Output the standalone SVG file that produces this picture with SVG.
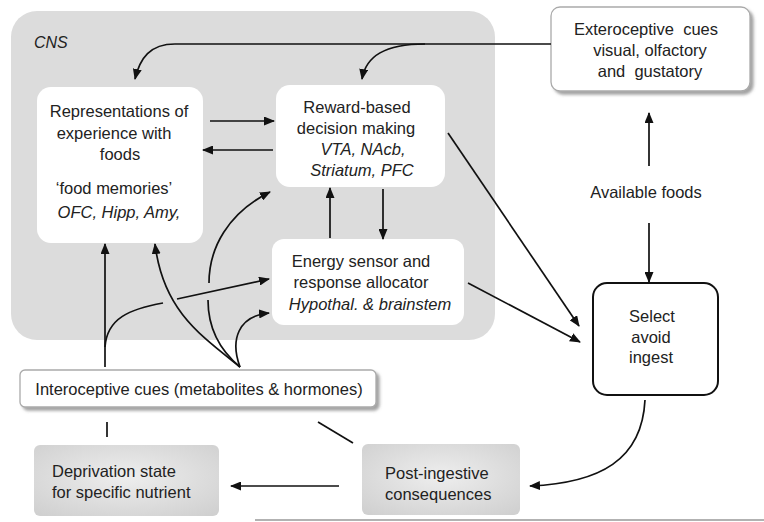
<svg xmlns="http://www.w3.org/2000/svg" width="764" height="522" viewBox="0 0 764 522">
<style>
text{font-family:"Liberation Sans",Arial,sans-serif;font-size:16.5px;fill:#222}
.i{font-style:italic}
.m{text-anchor:middle}
.p{white-space:pre}
.w{fill:#fff}
.c{fill:none;stroke:#111;stroke-width:1.7}
.a{marker-end:url(#ah)}
</style>
<defs>
<marker id="ah" markerUnits="userSpaceOnUse" markerWidth="11" markerHeight="9" refX="10" refY="4.5" orient="auto">
<path d="M0,0 L11,4.5 L0,9 z" fill="#111"/>
</marker>
<filter id="sh" x="-5%" y="-20%" width="115%" height="160%">
<feDropShadow dx="3" dy="3" stdDeviation="1.8" flood-color="#666" flood-opacity="0.6"/>
</filter>
<radialGradient id="gg" cx="50%" cy="45%" r="70%">
<stop offset="0" stop-color="#eeeeee"/>
<stop offset="1" stop-color="#d0d0d0"/>
</radialGradient>
</defs>
<rect width="764" height="522" fill="#fff"/>
<g id="cns">
<rect x="11" y="11" width="484" height="329" rx="26" fill="#dcdcdc"/>
<text x="34" y="48" class="i" style="font-size:16px">CNS</text>
</g>
<g id="representations">
<rect x="37" y="87" width="166" height="156" rx="14" class="w"/>
<text x="119" y="117" class="m">Representations of</text>
<text x="114" y="139" class="m">experience with</text>
<text x="120" y="160" class="m">foods</text>
<text x="114" y="194" class="m">‘food memories’</text>
<text x="119" y="218" class="m i">OFC, Hipp, Amy,</text>
</g>
<g id="reward">
<rect x="276" y="85" width="169" height="102" rx="14" class="w"/>
<text x="357" y="113" class="m">Reward-based</text>
<text x="356" y="134" class="m">decision making</text>
<text x="363" y="155" class="m i">VTA, NAcb,</text>
<text x="362" y="176" class="m i">Striatum, PFC</text>
</g>
<g id="energy">
<rect x="272" y="239" width="192" height="86" rx="12" class="w"/>
<text x="361" y="267" class="m">Energy sensor and</text>
<text x="361" y="288" class="m">response allocator</text>
<text x="370" y="310" class="m i">Hypothal. &amp; brainstem</text>
</g>
<g id="exteroceptive">
<rect x="551" y="7" width="199" height="84" rx="9" fill="#fff" stroke="#aaa" stroke-width="1.3" filter="url(#sh)"/>
<text x="646" y="35" class="m p">Exteroceptive  cues</text>
<text x="650" y="56" class="m">visual, olfactory</text>
<text x="650" y="77" class="m p">and  gustatory</text>
</g>
<g id="available">
<text x="646" y="198" class="m">Available foods</text>
</g>
<g id="select">
<rect x="593" y="283" width="125" height="112" rx="14" fill="#fff" stroke="#111" stroke-width="2"/>
<text x="652" y="322" class="m">Select</text>
<text x="651" y="343" class="m">avoid</text>
<text x="651" y="363" class="m">ingest</text>
</g>
<g id="interoceptive">
<rect x="20" y="370" width="356" height="37" rx="5" fill="#fff" stroke="#aaa" stroke-width="1.3" filter="url(#sh)"/>
<text x="199" y="395" class="m">Interoceptive cues (metabolites &amp; hormones)</text>
</g>
<g id="deprivation">
<rect x="34" y="445" width="185" height="71" rx="6" fill="url(#gg)"/>
<text x="52" y="477">Deprivation state</text>
<text x="52" y="498">for specific nutrient</text>
</g>
<g id="postingestive">
<rect x="362" y="444" width="158" height="71" rx="6" fill="url(#gg)"/>
<text x="385" y="479">Post-ingestive</text>
<text x="385" y="500">consequences</text>
</g>
<g id="connectors">
<path class="c a" d="M551 44 H175 C150 44 140 58 135 79"/>
<path class="c a" d="M425 44 C385 44 366 56 362 79"/>
<path class="c a" d="M210 121 H274"/>
<path class="c a" d="M273 150 H203"/>
<path class="c a" d="M330 238 V188"/>
<path class="c a" d="M383 189 V239"/>
<path class="c a" d="M448 133 L579 326"/>
<path class="c a" d="M468 283 L580 342"/>
<path class="c a" d="M649 166 V113"/>
<path class="c a" d="M649 223 V282"/>
<path class="c a" d="M645 400 C642 460 600 483 530 486"/>
<path class="c a" d="M339 486 H231"/>
<path class="c" d="M318 422 L353 443"/>
<path class="c" d="M107 422 V437"/>
<path class="c a" d="M105 367 V244"/>
<path class="c" d="M105 347 C107 318 130 309 163 303"/>
<path class="c a" d="M177 299 L269 279"/>
<path class="c a" d="M240 367 C200 335 163 310 155 244"/>
<path class="c" d="M240 367 C222 352 208 330 208 300"/>
<path class="c a" d="M209 283 C209 248 228 213 270 192"/>
<path class="c a" d="M240 367 C230 340 238 316 269 313"/>
<path d="M255 520 H764" stroke="#666" stroke-width="1.2" fill="none"/>
</g>
</svg>
